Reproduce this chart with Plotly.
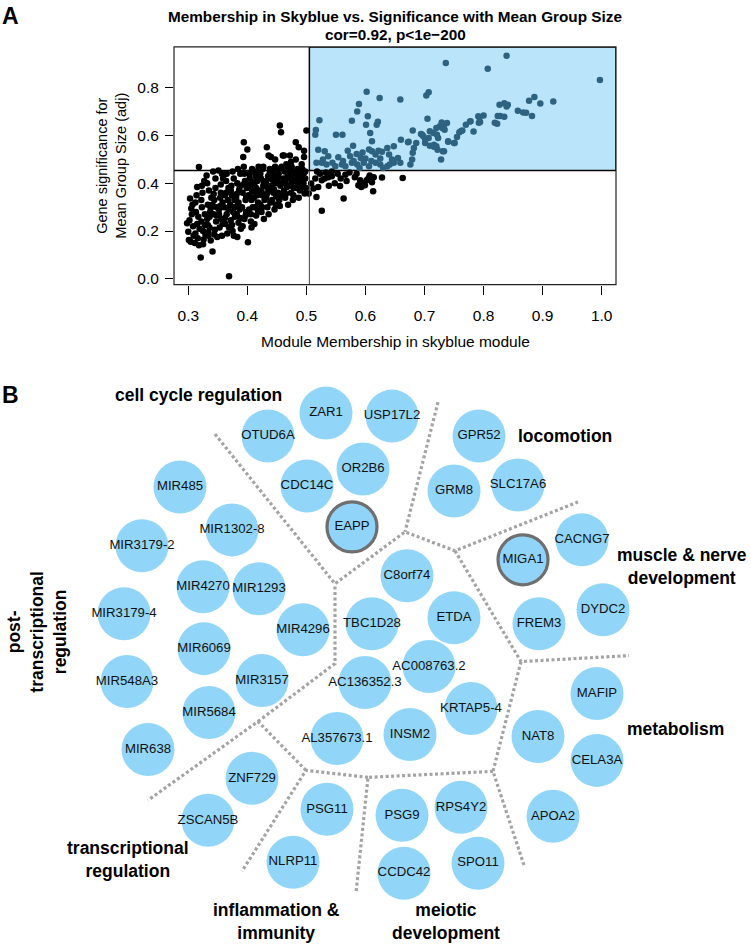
import plotly.graph_objects as go

FONT = "Liberation Sans, Arial, Helvetica, sans-serif"

# ---- panel A: module membership vs gene significance ----
mm_black = [
    0.298, 0.300, 0.301, 0.303, 0.305, 0.306, 0.308, 0.309, 0.302, 0.304, 0.307,
    0.311, 0.312, 0.313, 0.314, 0.315, 0.316, 0.317, 0.318, 0.319, 0.312, 0.315, 0.318,
    0.321, 0.322, 0.323, 0.324, 0.325, 0.326, 0.327, 0.328, 0.329, 0.322, 0.325, 0.328, 0.323,
    0.331, 0.332, 0.333, 0.334, 0.335, 0.336, 0.337, 0.338, 0.339, 0.332, 0.334, 0.336, 0.338, 0.333,
    0.341, 0.342, 0.343, 0.344, 0.345, 0.346, 0.347, 0.348, 0.349, 0.343, 0.346, 0.348, 0.344, 0.341,
    0.351, 0.352, 0.353, 0.354, 0.355, 0.356, 0.357, 0.358, 0.359, 0.352, 0.355, 0.358, 0.354, 0.357,
    0.361, 0.362, 0.363, 0.364, 0.365, 0.366, 0.367, 0.368, 0.369, 0.362, 0.365, 0.368, 0.364, 0.369,
    0.371, 0.372, 0.373, 0.374, 0.375, 0.376, 0.377, 0.378, 0.379, 0.372, 0.375, 0.378, 0.374, 0.377,
    0.381, 0.382, 0.383, 0.384, 0.385, 0.386, 0.387, 0.388, 0.389, 0.382, 0.385, 0.388, 0.384, 0.387, 0.383,
    0.391, 0.392, 0.393, 0.394, 0.395, 0.396, 0.397, 0.398, 0.399, 0.392, 0.395, 0.398, 0.394, 0.397, 0.400, 0.393, 0.401,
    0.402, 0.403, 0.404, 0.405, 0.406, 0.407, 0.408, 0.409, 0.403, 0.406, 0.408, 0.404, 0.407, 0.410,
    0.411, 0.412, 0.413, 0.414, 0.415, 0.416, 0.417, 0.418, 0.419, 0.412, 0.415, 0.418, 0.414, 0.417,
    0.421, 0.422, 0.423, 0.424, 0.425, 0.426, 0.427, 0.428, 0.429, 0.422, 0.425, 0.428, 0.424, 0.427,
    0.431, 0.432, 0.433, 0.434, 0.435, 0.436, 0.437, 0.438, 0.439, 0.432, 0.436, 0.440, 0.434, 0.438, 0.433,
    0.441, 0.442, 0.443, 0.444, 0.445, 0.446, 0.447, 0.448, 0.449, 0.442, 0.445, 0.448, 0.444, 0.447,
    0.451, 0.452, 0.453, 0.454, 0.455, 0.456, 0.457, 0.458, 0.459, 0.452, 0.455, 0.458, 0.460, 0.454,
    0.461, 0.462, 0.463, 0.464, 0.465, 0.466, 0.467, 0.468, 0.469, 0.462, 0.465, 0.468, 0.464,
    0.471, 0.472, 0.473, 0.474, 0.475, 0.476, 0.477, 0.478, 0.479, 0.472, 0.475, 0.478, 0.474,
    0.481, 0.482, 0.483, 0.484, 0.485, 0.486, 0.487, 0.488, 0.489, 0.482, 0.485, 0.488, 0.487,
    0.491, 0.492, 0.493, 0.494, 0.495, 0.496, 0.497, 0.498, 0.499, 0.492, 0.495, 0.498, 0.496, 0.500,
    0.566, 0.582, 0.591, 0.593, 0.599, 0.607, 0.614, 0.611, 0.602, 0.628, 0.663, 0.613, 0.563,
    0.557, 0.588, 0.596, 0.592, 0.605, 0.585, 0.526, 0.517, 0.512, 0.520, 0.526, 0.531, 0.537,
    0.515, 0.508, 0.504, 0.523, 0.533, 0.543, 0.548, 0.553, 0.538, 0.558, 0.568, 0.573, 0.543, 0.518,
]
gs_black = [
    0.233, 0.197, 0.162, 0.336, 0.294, 0.270, 0.220, 0.180, 0.245, 0.155, 0.310,
    0.150, 0.190, 0.280, 0.350, 0.230, 0.170, 0.260, 0.468, 0.210, 0.320, 0.385, 0.140,
    0.089, 0.240, 0.300, 0.360, 0.200, 0.165, 0.410, 0.270, 0.185, 0.330, 0.145, 0.225, 0.390,
    0.433, 0.250, 0.310, 0.180, 0.370, 0.215, 0.280, 0.160, 0.340, 0.400, 0.195, 0.260, 0.295, 0.225,
    0.114, 0.450, 0.270, 0.330, 0.205, 0.380, 0.240, 0.300, 0.175, 0.355, 0.420, 0.265, 0.185, 0.310,
    0.454, 0.290, 0.215, 0.340, 0.395, 0.250, 0.180, 0.320, 0.420, 0.270, 0.360, 0.230, 0.305, 0.440,
    0.300, 0.350, 0.230, 0.410, 0.270, 0.190, 0.330, 0.380, 0.010, 0.255, 0.440, 0.290, 0.360, 0.215,
    0.310, 0.245, 0.390, 0.350, 0.200, 0.280, 0.420, 0.330, 0.260, 0.370, 0.450, 0.300, 0.225, 0.180,
    0.340, 0.270, 0.400, 0.310, 0.235, 0.370, 0.290, 0.440, 0.210, 0.355, 0.320, 0.255, 0.460, 0.385, 0.175,
    0.300, 0.360, 0.510, 0.572, 0.250, 0.410, 0.330, 0.280, 0.380, 0.220, 0.440, 0.345, 0.470, 0.265, 0.542, 0.395, 0.153,
    0.350, 0.290, 0.420, 0.380, 0.240, 0.330, 0.460, 0.300, 0.395, 0.270, 0.365, 0.440, 0.215, 0.405,
    0.340, 0.390, 0.300, 0.430, 0.265, 0.360, 0.410, 0.320, 0.470, 0.230, 0.380, 0.285, 0.450, 0.350,
    0.370, 0.310, 0.420, 0.280, 0.350, 0.460, 0.390, 0.250, 0.330, 0.440, 0.300, 0.405, 0.365, 0.470,
    0.400, 0.340, 0.551, 0.300, 0.430, 0.517, 0.370, 0.460, 0.320, 0.410, 0.270, 0.510, 0.380, 0.445, 0.355,
    0.390, 0.330, 0.450, 0.360, 0.420, 0.290, 0.470, 0.400, 0.345, 0.415, 0.375, 0.310, 0.440, 0.500,
    0.410, 0.360, 0.440, 0.330, 0.642, 0.390, 0.614, 0.470, 0.350, 0.425, 0.305, 0.400, 0.517, 0.460,
    0.420, 0.370, 0.450, 0.340, 0.400, 0.480, 0.385, 0.430, 0.310, 0.517, 0.355, 0.460, 0.410,
    0.440, 0.390, 0.420, 0.360, 0.470, 0.405, 0.330, 0.450, 0.380, 0.517, 0.425, 0.350, 0.490,
    0.410, 0.572, 0.440, 0.380, 0.460, 0.400, 0.551, 0.430, 0.370, 0.500, 0.420, 0.450, 0.340,
    0.430, 0.390, 0.460, 0.410, 0.440, 0.537, 0.357, 0.420, 0.380, 0.480, 0.400, 0.450, 0.510, 0.621,
    0.436, 0.426, 0.413, 0.385, 0.392, 0.433, 0.426, 0.405, 0.413, 0.424, 0.422, 0.367, 0.336,
    0.389, 0.392, 0.399, 0.401, 0.420, 0.440, 0.285, 0.343, 0.378, 0.385, 0.413, 0.420, 0.426,
    0.420, 0.399, 0.357, 0.440, 0.445, 0.430, 0.400, 0.440, 0.390, 0.420, 0.410, 0.445, 0.450, 0.450,
]

mm_sky = [
    0.839, 0.807, 0.997, 0.736, 0.886, 0.877, 0.896, 0.918, 0.827, 0.835, 0.839, 0.841,
    0.858, 0.867, 0.872, 0.882, 0.824, 0.828, 0.835, 0.819, 0.823, 0.800, 0.793, 0.792,
    0.777, 0.770, 0.783, 0.762, 0.602, 0.624, 0.659, 0.707, 0.703, 0.589, 0.586, 0.604,
    0.577, 0.621, 0.619, 0.601, 0.705, 0.561, 0.680, 0.660, 0.673, 0.694, 0.698, 0.701,
    0.709, 0.715, 0.721, 0.723, 0.726, 0.729, 0.733, 0.738, 0.730, 0.734, 0.701, 0.709,
    0.716, 0.722, 0.728, 0.733, 0.740, 0.750, 0.755, 0.759, 0.764, 0.778, 0.791, 0.794,
    0.522, 0.516, 0.515, 0.550, 0.608, 0.611, 0.579, 0.520, 0.531, 0.537, 0.528,
    0.570, 0.585, 0.592, 0.600, 0.606, 0.611, 0.617, 0.622, 0.628, 0.637, 0.648, 0.672,
    0.682, 0.680, 0.679, 0.676, 0.686, 0.696, 0.707, 0.720, 0.720, 0.716, 0.731, 0.740, 0.751,
    0.640, 0.645, 0.655, 0.659, 0.517, 0.526, 0.534, 0.544, 0.549, 0.560, 0.566, 0.577,
    0.586, 0.597, 0.606, 0.617, 0.625, 0.637, 0.648, 0.554, 0.562, 0.574, 0.590, 0.610,
    0.625, 0.630, 0.595, 0.580, 0.641,
]
gs_sky = [
    0.935, 0.880, 0.833, 0.904, 0.762, 0.746, 0.735, 0.743, 0.729, 0.736, 0.722, 0.729,
    0.704, 0.697, 0.696, 0.682, 0.682, 0.682, 0.679, 0.654, 0.650, 0.684, 0.676, 0.654,
    0.659, 0.646, 0.617, 0.619, 0.784, 0.758, 0.751, 0.782, 0.768, 0.733, 0.701, 0.681,
    0.662, 0.658, 0.646, 0.646, 0.671, 0.604, 0.621, 0.583, 0.574, 0.607, 0.597, 0.586,
    0.618, 0.611, 0.604, 0.590, 0.639, 0.655, 0.646, 0.653, 0.632, 0.625, 0.569, 0.558,
    0.553, 0.541, 0.500, 0.535, 0.574, 0.569, 0.594, 0.614, 0.621, 0.660, 0.681, 0.657,
    0.664, 0.624, 0.604, 0.604, 0.611, 0.576, 0.558, 0.541, 0.534, 0.514, 0.500,
    0.537, 0.523, 0.506, 0.504, 0.542, 0.534, 0.521, 0.537, 0.532, 0.548, 0.555, 0.572,
    0.548, 0.528, 0.500, 0.479, 0.569, 0.604, 0.590, 0.632, 0.555, 0.562, 0.535, 0.576, 0.569,
    0.521, 0.500, 0.506, 0.486, 0.486, 0.486, 0.479, 0.486, 0.472, 0.479, 0.472, 0.486,
    0.479, 0.486, 0.472, 0.486, 0.479, 0.472, 0.486, 0.509, 0.494, 0.514, 0.464, 0.494,
    0.504, 0.464, 0.529, 0.494, 0.479,
]

mm_cut = 0.505
gs_cut = 0.454
x_ticks = [0.3, 0.4, 0.5, 0.6, 0.7, 0.8, 0.9, 1.0]
y_ticks = [0.0, 0.2, 0.4, 0.6, 0.8]

# ---- panel B: gene network (page pixel positions) ----
node_names = ["ZAR1", "USP17L2", "OTUD6A", "OR2B6", "CDC14C", "EAPP",
              "GPR52", "GRM8", "SLC17A6",
              "MIR485", "MIR1302-8", "MIR3179-2", "MIR4270", "MIR1293", "MIR3179-4", "MIR4296",
              "MIR6069", "MIR548A3", "MIR3157", "MIR5684", "MIR638",
              "TBC1D28", "C8orf74", "ETDA", "AC008763.2", "AC136352.3", "KRTAP5-4", "INSM2", "AL357673.1",
              "CACNG7", "MIGA1", "FREM3", "DYDC2",
              "MAFIP", "NAT8", "CELA3A", "APOA2",
              "ZNF729", "ZSCAN5B",
              "PSG11", "NLRP11", "PSG9", "RPS4Y2", "CCDC42", "SPO11"]
node_x = [326, 392, 268, 363, 307, 352, 479, 454, 518,
          180, 232, 142, 203, 259, 124, 303, 204, 127, 262, 209, 148,
          372, 407, 454, 429, 365, 471, 410, 337,
          582, 523, 539, 603, 597, 538, 597, 553, 252, 208,
          327, 293, 402, 461, 404, 478]
node_y = [414, 417, 437, 470, 487, 528, 437, 492, 486,
          488, 531, 547, 588, 590, 615, 631, 650, 683, 682, 714, 751,
          625, 577, 619, 668, 684, 710, 736, 740,
          541, 561, 625, 611, 695, 738, 762, 818, 780, 822,
          811, 864, 817, 809, 875, 865]
hub_nodes = ["EAPP", "MIGA1"]

divider_x = [[215, 335, 405, 455, 578], [438, 405], [455, 521, 629], [521, 493, 524],
             [493, 368, 356], [368, 306, 242], [306, 258, 148], [258, 335, 335]]
divider_y = [[435, 585, 533, 552, 503], [403, 533], [552, 663, 657], [663, 773, 867],
             [773, 779, 895], [779, 772, 873], [772, 723, 802], [723, 665, 585]]

group_labels = ["cell cycle regulation", "locomotion", "muscle & nerve<br>development",
                "metabolism", "transcriptional<br>regulation", "inflammation &<br>immunity",
                "meiotic<br>development"]
group_x = [198, 565, 682, 675, 128, 276, 446]
group_y = [396, 437, 568, 731, 861, 923, 923]

W, H = 751, 946
fig = go.Figure()

fig.add_trace(go.Scatter(x=mm_black, y=gs_black, mode="markers", xaxis="x", yaxis="y",
                         marker=dict(color="black", size=6.5), hoverinfo="x+y"))
fig.add_trace(go.Scatter(x=mm_sky, y=gs_sky, mode="markers", xaxis="x", yaxis="y",
                         marker=dict(color="#2D6380", size=6.5), hoverinfo="x+y"))

lx, ly = [], []
for xs, ys in zip(divider_x, divider_y):
    lx += xs + [None]
    ly += ys + [None]
fig.add_trace(go.Scatter(x=lx, y=ly, mode="lines", xaxis="x2", yaxis="y2",
                         line=dict(color="#a3a3a3", width=3.2, dash="3px,2.5px"),
                         hoverinfo="skip"))

fig.add_trace(go.Scatter(
    x=node_x, y=node_y, text=node_names, mode="markers+text", xaxis="x2", yaxis="y2",
    textposition="middle center",
    textfont=dict(family=FONT, size=13.2, color="#111111"),
    marker=dict(size=[50 if n in hub_nodes else 53 for n in node_names],
                color="#62C4F7",
                line=dict(color="#333333", width=[3.2 if n in hub_nodes else 0 for n in node_names])),
    hoverinfo="text"))

x0p, x1p = 174 / W, 616 / W
y0p, y1p = 1 - 285.3 / H, 1 - 47 / H

fig.update_layout(
    width=W, height=H, autosize=False,
    margin=dict(l=0, r=0, t=0, b=0),
    paper_bgcolor="white", plot_bgcolor="rgba(0,0,0,0)",
    showlegend=False,
    font=dict(family=FONT, color="black"),
    xaxis=dict(domain=[x0p, x1p], range=[0.2758, 1.0242], anchor="y",
               tickvals=x_ticks, ticktext=["%.1f" % v for v in x_ticks],
               ticks="outside", ticklen=9, tickcolor="black", tickwidth=1,
               showline=False, showgrid=False, zeroline=False,
               tickfont=dict(size=15.5), ticklabelstandoff=8),
    yaxis=dict(domain=[y0p, y1p], range=[-0.025, 0.972], anchor="x",
               tickvals=y_ticks, ticktext=["%.1f" % v for v in y_ticks],
               ticks="outside", ticklen=8, tickcolor="black", tickwidth=1,
               showline=False, showgrid=False, zeroline=False,
               tickfont=dict(size=15.5), ticklabelstandoff=3),
    xaxis2=dict(domain=[0, 1], range=[0, W], anchor="y2", visible=False),
    yaxis2=dict(domain=[0, 1], range=[H, 0], anchor="x2", visible=False),
)

fig.add_shape(type="rect", xref="x", yref="y", x0=mm_cut, x1=1.0242, y0=gs_cut, y1=0.972,
              fillcolor="#BAE4FA", line=dict(color="black", width=1.5), layer="below")
fig.add_shape(type="line", xref="x", yref="y", x0=mm_cut, x1=mm_cut, y0=-0.025, y1=gs_cut,
              line=dict(color="#444444", width=1))
fig.add_shape(type="line", xref="x", yref="y", x0=0.2758, x1=mm_cut, y0=gs_cut, y1=gs_cut,
              line=dict(color="black", width=1.5))
fig.add_shape(type="rect", xref="x domain", yref="y domain", x0=0, x1=1, y0=0, y1=1,
              line=dict(color="#222222", width=1.2))


def px_note(text, x, y, size, bold=False, angle=0):
    fig.add_annotation(text="<b>%s</b>" % text if bold else text, x=x / W, y=1 - y / H,
                       xref="paper", yref="paper", showarrow=False, textangle=angle,
                       xanchor="center", yanchor="middle", align="center",
                       font=dict(family=FONT, size=size, color="black"))


px_note("A", 10, 16, 23, bold=True)
px_note("B", 10, 396, 23, bold=True)
px_note("Membership in Skyblue vs. Significance with Mean Group Size", 395, 17, 15.3, bold=True)
px_note("cor=0.92, p<1e\u2212200", 395, 35, 15.3, bold=True)
px_note("Module Membership in skyblue module", 395, 342, 15.5)
px_note("Gene significance for<br>Mean Group Size (adj)", 112, 166, 14.5, angle=-90)

for lab, gx, gy in zip(group_labels, group_x, group_y):
    px_note(lab, gx, gy, 17.5, bold=True)
px_note("post-<br>transcriptional<br>regulation", 37, 633, 17.5, bold=True, angle=-90)

fig.write_html("out.html", config={"displayModeBar": False},
               post_script="document.body.style.margin='0';")
